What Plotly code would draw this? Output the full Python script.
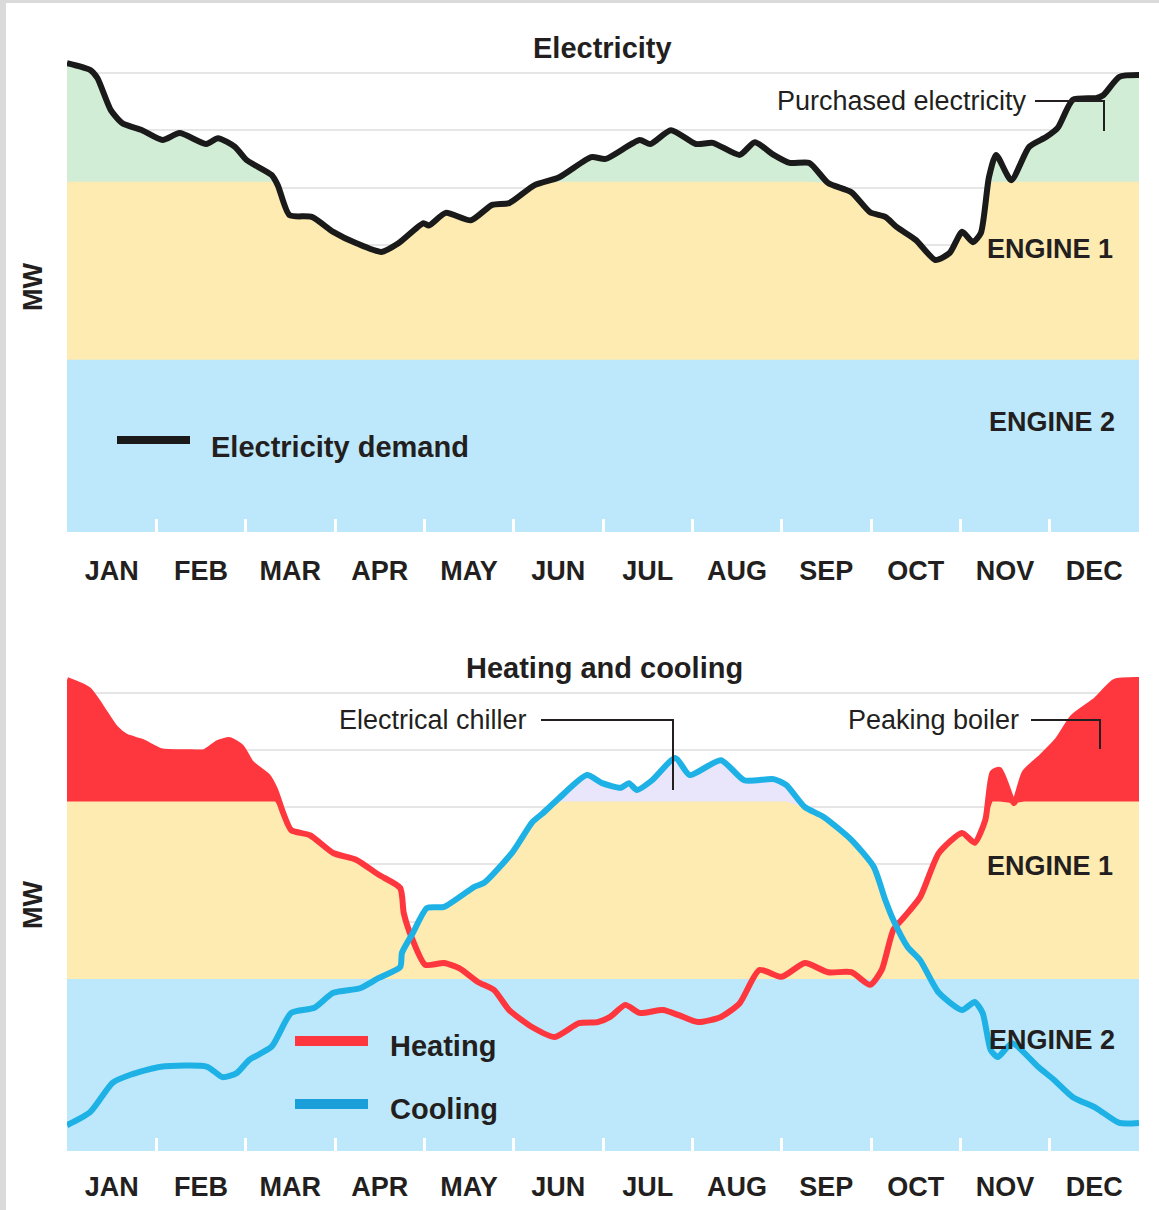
import numpy as np
import plotly.graph_objects as go

W, H = 1159, 1210

# ---------------- data (x in months from start of JAN, y in MW) ----------------
MONTHS = ["JAN", "FEB", "MAR", "APR", "MAY", "JUN", "JUL", "AUG", "SEP", "OCT", "NOV", "DEC"]
ENGINE2_TOP = 30.0
ENGINE1_TOP = 61.0

elec_month = [0.0, 0.26, 0.34, 0.49, 0.62, 0.84, 1.07, 1.26, 1.56, 1.69, 1.88, 2.01, 2.29, 2.36,
              2.49, 2.74, 2.98, 3.24, 3.52, 3.71, 3.99, 4.05, 4.24, 4.52, 4.76, 4.95, 5.23, 5.51,
              5.87, 6.03, 6.41, 6.53, 6.76, 7.04, 7.23, 7.53, 7.70, 7.91, 8.09, 8.31, 8.52, 8.78,
              8.99, 9.16, 9.29, 9.50, 9.72, 9.88, 10.02, 10.14, 10.23, 10.32, 10.40, 10.57, 10.77,
              10.96, 11.09, 11.26, 11.52, 11.60, 11.78, 12.0]
elec_mw = [81.7, 80.5, 79.1, 73.5, 71.2, 70.0, 68.3, 69.5, 67.6, 68.6, 67.1, 64.8, 62.2, 60.4,
           55.2, 54.9, 52.3, 50.3, 48.8, 50.3, 53.8, 53.4, 55.6, 54.3, 57.0, 57.3, 60.4, 61.8,
           65.3, 65.0, 68.3, 67.6, 70.0, 67.6, 67.8, 65.7, 67.9, 65.7, 64.3, 64.3, 60.8, 59.2,
           55.7, 54.9, 53.1, 50.9, 47.4, 48.6, 52.3, 50.5, 52.1, 61.8, 65.7, 61.3, 67.1,
           68.8, 70.4, 75.3, 75.6, 76.1, 79.3, 79.6]

heat_month = [0.0, 0.24, 0.38, 0.54, 0.66, 0.84, 1.05, 1.35, 1.54, 1.69, 1.82, 1.95, 2.06, 2.25,
              2.33, 2.42, 2.51, 2.72, 2.98, 3.24, 3.49, 3.73, 3.77, 3.87, 4.01, 4.22, 4.39, 4.60,
              4.78, 4.95, 5.21, 5.46, 5.73, 5.94, 6.08, 6.25, 6.41, 6.67, 6.85, 7.06, 7.32, 7.53,
              7.75, 8.00, 8.26, 8.52, 8.78, 8.99, 9.12, 9.25, 9.37, 9.55, 9.76, 10.02, 10.16,
              10.28, 10.36, 10.44, 10.60, 10.72, 10.91, 11.09, 11.26, 11.52, 11.73, 12.0]
heat_mw = [82.2, 80.5, 77.5, 73.8, 72.3, 71.4, 69.8, 69.6, 69.6, 71.2, 71.7, 70.5, 67.7, 65.3,
           63.0, 59.0, 56.0, 55.1, 52.0, 50.8, 48.2, 45.9, 41.5, 36.8, 32.5, 32.8, 31.9, 29.5,
           28.1, 24.6, 21.6, 19.9, 22.3, 22.5, 23.4, 25.5, 24.1, 24.6, 23.7, 22.5, 23.4, 25.8,
           31.6, 30.4, 32.8, 31.2, 31.2, 29.0, 31.6, 38.6, 40.8, 44.3, 52.0, 55.5, 53.8,
           57.8, 66.0, 66.5, 60.7, 66.0, 68.8, 71.7, 75.7, 78.7, 81.9, 82.2]

cool_month = [0.0, 0.26, 0.51, 0.71, 1.05, 1.57, 1.74, 1.90, 2.04, 2.29, 2.51, 2.77, 2.98, 3.28,
              3.49, 3.73, 3.75, 3.87, 4.03, 4.22, 4.56, 4.67, 4.99, 5.21, 5.33, 5.51, 5.82, 5.99,
              6.20, 6.29, 6.38, 6.55, 6.81, 6.97, 7.32, 7.58, 7.91, 8.05, 8.26, 8.47, 8.78, 9.03,
              9.16, 9.25, 9.41, 9.55, 9.76, 10.02, 10.16, 10.25, 10.34, 10.42, 10.58, 10.87,
              11.05, 11.26, 11.52, 11.78, 12.0]
cool_mw = [4.5, 6.8, 11.9, 13.3, 14.7, 14.7, 12.9, 13.6, 15.9, 18.2, 24.1, 25.0, 27.6, 28.4,
           30.2, 32.1, 34.6, 38.0, 42.4, 42.6, 46.1, 46.8, 52.2, 57.4, 59.0, 61.6, 65.6, 64.2,
           63.4, 64.2, 63.0, 64.7, 68.6, 65.6, 68.2, 64.7, 64.9, 63.9, 60.0, 58.3, 54.3, 49.6,
           43.8, 40.3, 35.6, 33.3, 27.6, 24.6, 26.0, 24.1, 17.6, 16.4, 18.8, 14.7,
           12.4, 9.4, 7.5, 4.9, 4.9]

# ---------------- styles ----------------
GREEN = "#D2EDD5"
YELLOW = "#FDEBB2"
BLUE_BAND = "#BDE8FB"
RED = "#FE373E"
COOL = "#1DB1E6"
LAV = "#E9E5FA"
INK = "#231F20"
GRID = "#E6E6E6"
REG = "Liberation Sans, Arial, sans-serif"


def px(x):
    return x / W


def py(y):
    return 1 - y / H


fig = go.Figure()
SM = 0.6


def fill(xs, ys, color, xa, ya, shape="spline"):
    fig.add_trace(go.Scatter(x=xs, y=ys, mode="lines", fill="tozeroy", fillcolor=color,
                             line=dict(width=0, color=color, shape=shape, smoothing=SM),
                             xaxis=xa, yaxis=ya, hoverinfo="skip", showlegend=False))


def line(xs, ys, color, xa, ya, name):
    fig.add_trace(go.Scatter(x=xs, y=ys, mode="lines", name=name,
                             line=dict(width=6, color=color, shape="spline", smoothing=SM),
                             xaxis=xa, yaxis=ya, showlegend=False))


# top panel
fill(elec_month, elec_mw, GREEN, "x", "y")
fill(elec_month, np.minimum(elec_mw, ENGINE1_TOP), YELLOW, "x", "y", "linear")
fill([0, 12], [ENGINE2_TOP, ENGINE2_TOP], BLUE_BAND, "x", "y", "linear")
line(elec_month, elec_mw, "#1A1A1A", "x", "y", "Electricity demand")

# bottom panel
fill(heat_month, heat_mw, RED, "x2", "y2")
fill(cool_month, cool_mw, LAV, "x2", "y2")
fill(heat_month, np.minimum(heat_mw, ENGINE1_TOP), YELLOW, "x2", "y2", "linear")
fill(cool_month, np.minimum(cool_mw, ENGINE1_TOP), YELLOW, "x2", "y2", "linear")
fill([0, 12], [ENGINE2_TOP, ENGINE2_TOP], BLUE_BAND, "x2", "y2", "linear")
line(heat_month, heat_mw, RED, "x2", "y2", "Heating")
line(cool_month, cool_mw, COOL, "x2", "y2", "Cooling")

xdom = [px(67), px(1139)]
xcommon = dict(range=[0, 12], domain=xdom, tickvals=[i + 0.5 for i in range(12)], ticktext=MONTHS,
               ticks="", showgrid=False, zeroline=False, showline=False, fixedrange=True,
               tickfont=dict(family=REG, size=27, color=INK, weight="bold"),
               minor=dict(tickvals=list(range(1, 12)), ticks="inside", ticklen=13,
                          tickcolor="white", tickwidth=3, showgrid=False))
ycommon = dict(range=[0, 83], showticklabels=False, showgrid=True, gridcolor=GRID, gridwidth=2,
               dtick=10, tick0=0, zeroline=False, showline=False, ticks="", fixedrange=True)

fig.update_layout(
    width=W, height=H, margin=dict(l=0, r=0, t=0, b=0),
    paper_bgcolor="white", plot_bgcolor="white",
    xaxis=dict(**xcommon, anchor="y", ticklabelstandoff=20),
    yaxis=dict(**ycommon, domain=[py(532), py(55.6)], anchor="x"),
    xaxis2=dict(**xcommon, anchor="y2", ticklabelstandoff=17),
    yaxis2=dict(**ycommon, domain=[py(1151), py(675.4)], anchor="x2"),
)

ann = []


def text(t, x, y, anchor, size, bold=False, angle=0):
    ann.append(dict(text=t, x=px(x), y=py(y), xref="paper", yref="paper", xanchor=anchor,
                    yanchor="middle", showarrow=False, textangle=angle,
                    font=dict(family=REG, size=size, color=INK, weight="bold" if bold else "normal")))


text("Electricity", 603, 48, "center", 29, True)
text("Heating and cooling", 604, 668, "center", 29, True)
text("Purchased electricity", 1029, 101, "right", 27)
text("ENGINE 1", 1115, 249, "right", 27, True)
text("ENGINE 2", 1117, 422, "right", 27, True)
text("ENGINE 1", 1115, 866, "right", 27, True)
text("ENGINE 2", 1117, 1040, "right", 27, True)
text("Electricity demand", 209, 447, "left", 29, True)
text("Heating", 388, 1046, "left", 29, True)
text("Cooling", 388, 1109, "left", 29, True)
text("Electrical chiller", 529, 720, "right", 27)
text("Peaking boiler", 1021, 720, "right", 27)
text("MW", 33, 287, "center", 27, True, -90)
text("MW", 33, 905, "center", 27, True, -90)
fig.update_layout(annotations=ann)

shapes = []


def path(pts, color=INK, width=2):
    d = "M " + " L ".join(f"{px(a)},{py(b)}" for a, b in pts)
    shapes.append(dict(type="path", path=d, xref="paper", yref="paper",
                       line=dict(color=color, width=width), layer="above"))


def rect(x0, y0, x1, y1, color):
    shapes.append(dict(type="rect", x0=px(x0), x1=px(x1), y0=py(y1), y1=py(y0), xref="paper",
                       yref="paper", fillcolor=color, line=dict(width=0), layer="above"))


# leader lines
path([(1035, 101), (1104, 101), (1104, 131)])
path([(541, 720), (673, 720), (673, 790)])
path([(1031, 720), (1100, 720), (1100, 749)])
# legend keys
rect(117, 436, 190, 444, "#1A1A1A")
rect(295, 1036, 368, 1046, RED)
rect(295, 1099, 368, 1109, "#1A9FDB")
# frame
rect(0, 0, 6, 1210, "#DADADA")
rect(0, 0, 1159, 3, "#DADADA")
fig.update_layout(shapes=shapes)

fig.write_html("out.html", config={"displayModeBar": False},
               post_script="document.body.style.margin='0';document.body.style.overflow='hidden';")
